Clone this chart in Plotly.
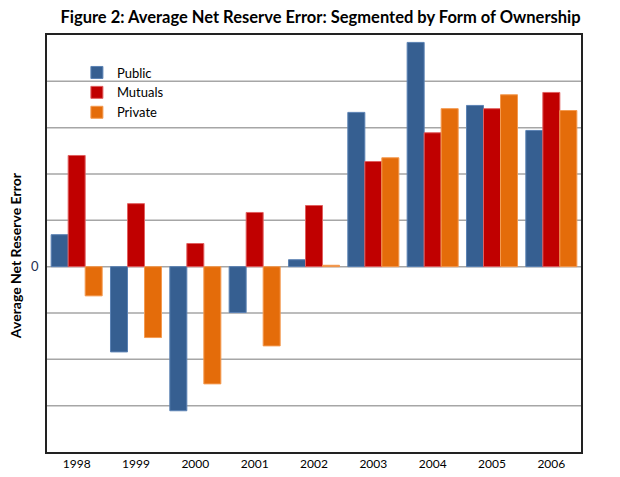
import plotly.graph_objects as go

years = ["1998", "1999", "2000", "2001", "2002", "2003", "2004", "2005", "2006"]
public = [0.69, -1.84, -3.11, -0.99, 0.15, 3.33, 4.84, 3.48, 2.94]
mutuals = [2.40, 1.36, 0.50, 1.17, 1.32, 2.27, 2.89, 3.41, 3.76]
private = [-0.63, -1.53, -2.53, -1.71, 0.03, 2.35, 3.41, 3.71, 3.37]

series = [
    ("Public", public, "#365F91", "#5B82B4"),
    ("Mutuals", mutuals, "#C00000", "#E06060"),
    ("Private", private, "#E46C0A", "#F49A50"),
]

fig = go.Figure()
for name, vals, col, lc in series:
    fig.add_trace(go.Bar(
        x=years, y=vals, name=name,
        marker=dict(color=col, line=dict(color=lc, width=1)),
    ))

fig.update_layout(
    width=620, height=477,
    margin=dict(l=47, r=39, t=35, b=25),
    paper_bgcolor="white", plot_bgcolor="white",
    barmode="group", bargap=0.14, bargroupgap=0,
    font=dict(family="Lato, sans-serif", size=12, color="#000000"),
    title=dict(
        text="<b>Figure 2: Average Net Reserve Error: Segmented by Form of Ownership</b>",
        x=0.517, xanchor="center", y=0.963, yanchor="middle",
        font=dict(family="Lato, sans-serif", size=16.5, color="#000000"),
    ),
    legend=dict(
        x=0.056, y=0.946, xanchor="left", yanchor="top",
        bgcolor="rgba(0,0,0,0)", font=dict(size=13),
        tracegroupgap=0, itemwidth=30,
    ),
    showlegend=True,
    annotations=[dict(
        text="<b>Average Net Reserve Error</b>", textangle=-90,
        xref="paper", yref="paper", x=-0.06, y=0.472,
        xanchor="center", yanchor="middle", showarrow=False,
        font=dict(size=14, color="#000000"),
    )],
)

fig.update_xaxes(
    showline=True, linecolor="#222222", linewidth=1.5, mirror=True,
    ticks="", tickfont=dict(size=12), showgrid=False, automargin=False,
)
fig.update_yaxes(
    range=[-4, 5], dtick=1,
    tickvals=[0], ticktext=["0"],
    showline=True, linecolor="#222222", linewidth=1.5, mirror=True,
    showgrid=False, zeroline=False, automargin=False,
    ticks="", tickfont=dict(size=13, color="#1F3050"), ticklabelstandoff=4,
)

# gridlines at unit steps (drawn as shapes beneath bars)
for v in range(-3, 5):
    fig.add_shape(type="line", xref="paper", x0=0, x1=1, yref="y", y0=v, y1=v,
                  line=dict(color="#A6A6A6", width=1.5), layer="below")

fig.write_html("out.html")
